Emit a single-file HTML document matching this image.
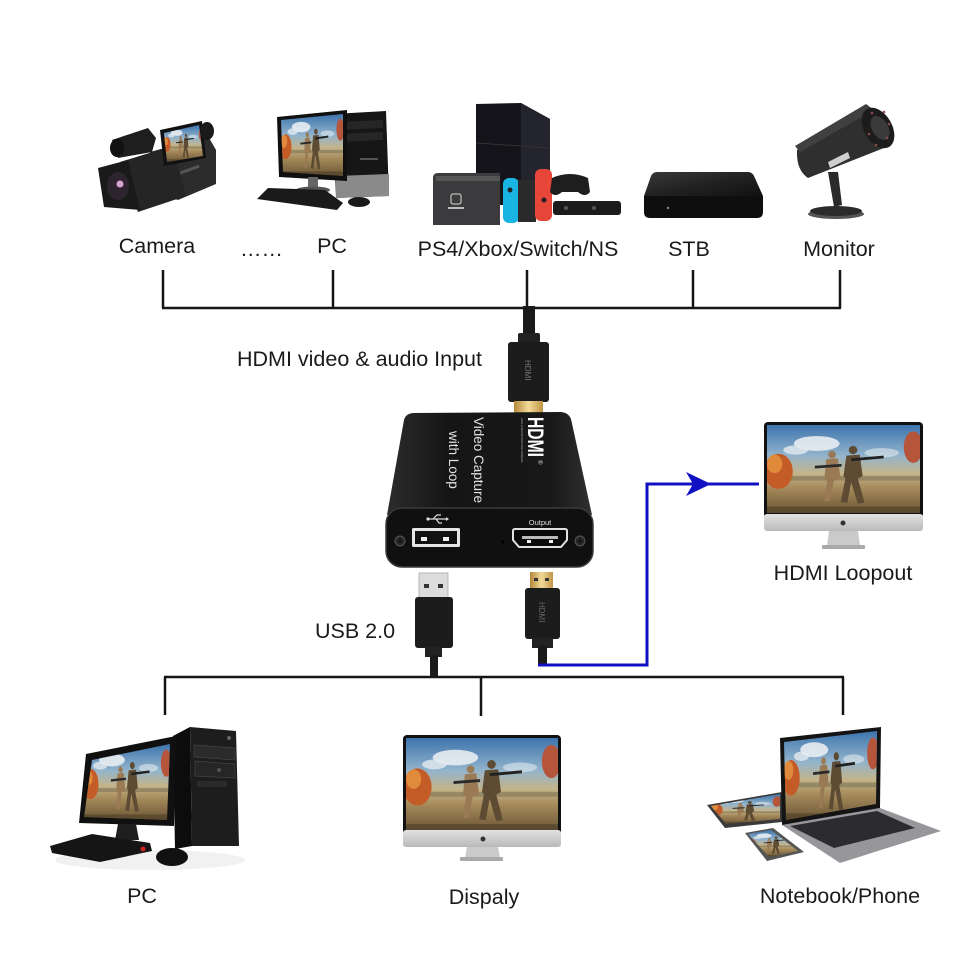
<!DOCTYPE html>
<html><head><meta charset="utf-8"><style>
html,body{margin:0;padding:0;background:#fff;}
svg{display:block}
text{font-family:"Liberation Sans",Arial,sans-serif;}
</style></head><body>
<svg width="980" height="980" viewBox="0 0 980 980" xmlns="http://www.w3.org/2000/svg">
<defs>
 <linearGradient id="sky" x1="0" y1="0" x2="0" y2="1">
  <stop offset="0" stop-color="#3d74ad"/>
  <stop offset="0.35" stop-color="#93b4cc"/>
  <stop offset="0.55" stop-color="#c4b48a"/>
  <stop offset="0.72" stop-color="#a5895a"/>
  <stop offset="1" stop-color="#6a5535"/>
 </linearGradient>
 <linearGradient id="gold" x1="0" y1="0" x2="1" y2="0">
  <stop offset="0" stop-color="#b3873a"/>
  <stop offset="0.5" stop-color="#f1dc98"/>
  <stop offset="1" stop-color="#c09545"/>
 </linearGradient>
 <linearGradient id="silver" x1="0" y1="0" x2="0" y2="1">
  <stop offset="0" stop-color="#e2e2e2"/>
  <stop offset="1" stop-color="#b9b9b9"/>
 </linearGradient>
 <linearGradient id="boxtop" x1="0" y1="0" x2="1" y2="0">
  <stop offset="0" stop-color="#2c2c2c"/>
  <stop offset="0.3" stop-color="#151515"/>
  <stop offset="0.8" stop-color="#181818"/>
  <stop offset="1" stop-color="#303030"/>
 </linearGradient>
 <linearGradient id="stbtop" x1="0" y1="0" x2="1" y2="1">
  <stop offset="0" stop-color="#3a3a3a"/>
  <stop offset="0.5" stop-color="#222"/>
  <stop offset="1" stop-color="#111"/>
 </linearGradient>
 <symbol id="scene" viewBox="0 0 160 95" preserveAspectRatio="none">
  <rect width="160" height="95" fill="url(#sky)"/>
  <ellipse cx="52" cy="20" rx="24" ry="8" fill="#eef2f4" opacity="0.85"/>
  <ellipse cx="30" cy="27" rx="13" ry="5" fill="#e4ebef" opacity="0.8"/>
  <ellipse cx="120" cy="30" rx="18" ry="5" fill="#dfe7ec" opacity="0.6"/>
  <rect x="0" y="55" width="160" height="5" fill="#7c7456" opacity="0.6"/>
  <ellipse cx="12" cy="50" rx="15" ry="19" fill="#c45c28"/>
  <ellipse cx="8" cy="42" rx="8" ry="10" fill="#e08a3c"/>
  <ellipse cx="153" cy="24" rx="10" ry="17" fill="#b5553c"/>
  <g fill="#9a7a55">
   <circle cx="68" cy="32" r="4"/>
   <path d="M62 37 L74 36 L77 58 L70 60 L66 82 L60 82 L63 60 L60 58 Z"/>
  </g>
  <path d="M50 44 L78 42 L78 45 L50 47Z" fill="#2a2a2a"/>
  <g fill="#5e4b33">
   <circle cx="90" cy="27" r="4.5"/>
   <path d="M83 33 L97 32 L100 55 L95 58 L102 84 L95 85 L88 62 L84 84 L77 83 L82 58 L80 55Z"/>
  </g>
  <path d="M88 36 L122 33 L122 36 L88 39Z" fill="#222"/>
  <rect x="0" y="88" width="160" height="7" fill="#4d3f28" opacity="0.6"/>
 </symbol>
 <clipPath id="cCam"><path d="M164 133 L199 125 L203 156 L167 162 Z"/></clipPath>
 <clipPath id="cPc1"><path d="M281 120 L343 114 L343 176 L283 172 Z"/></clipPath>
 <clipPath id="cPc2"><path d="M92 760 L170 744 L167 820 L84 817 Z"/></clipPath>
 <clipPath id="cLap"><path d="M784 742 L877 731 L876 804 L786 820 Z"/></clipPath>
 <clipPath id="cTab"><path d="M711 806 L780 794 L780 819 L726 824 Z"/></clipPath>
 <clipPath id="cPho"><path d="M748 834 L771 830 L798 851 L769 857 Z"/></clipPath>
</defs>

<rect width="980" height="980" fill="#fff"/>

<!-- ===== bus lines ===== -->
<g stroke="#151515" stroke-width="2.5" fill="none">
 <path d="M163 270 V308 M333 270 V308 M527 270 V308 M693 270 V308 M840 270 V308 M162 308 H841"/>
 <path d="M164 677 H844 M165 677 V715 M481 677 V716 M843 677 V715"/>
</g>

<!-- ===== Camera ===== -->
<g>
 <path d="M112 140 L148 128 L156 138 L152 152 L118 158 Z" fill="#1e1e1e"/>
 <ellipse cx="117" cy="148" rx="7" ry="9" fill="#111"/>
 <path d="M150 152 L208 136 L216 150 L216 184 L178 200 L150 190 Z" fill="#2c2c2c"/>
 <path d="M120 162 L172 146 L186 196 L138 212 Z" fill="#252525"/>
 <path d="M98 168 L128 160 L140 210 L104 207 Z" fill="#1a1a1a"/>
 <ellipse cx="118" cy="186" rx="11" ry="14" fill="#2e2430"/>
 <circle cx="120" cy="184" r="3.5" fill="#d9a6cc"/>
 <path d="M160 130 L202 121 L206 158 L164 166 Z" fill="#111"/>
 <g clip-path="url(#cCam)"><use href="#scene" x="164" y="125" width="39" height="37"/></g>
 <ellipse cx="207" cy="131" rx="7" ry="9" fill="#1a1a1a"/>
 <rect x="180" y="168" width="20" height="3" fill="#555" transform="rotate(-20 190 170)"/>
</g>

<!-- ===== Top PC ===== -->
<g>
 <path d="M333 114 L386 111 L389 196 L336 198 Z" fill="#161616"/>
 <path d="M336 176 L389 174 L389 196 L336 198Z" fill="#8a8a8a"/>
 <path d="M340 122 L383 120 L383 128 L340 130Z" fill="#262626"/>
 <path d="M340 134 L383 132 L383 140 L340 142Z" fill="#262626"/>
 <rect x="360" y="158" width="18" height="2" fill="#555"/>
 <path d="M277 117 L347 110 L347 181 L279 177 Z" fill="#101010"/>
 <g clip-path="url(#cPc1)"><use href="#scene" x="281" y="114" width="62" height="62"/></g>
 <rect x="308" y="177" width="10" height="12" fill="#666"/>
 <ellipse cx="313" cy="190" rx="17" ry="3.5" fill="#555"/>
 <path d="M268 188 L325 190 L343 203 L337 210 L257 199 Z" fill="#1a1a1a"/>
 <ellipse cx="359" cy="202" rx="11" ry="5" fill="#1a1a1a"/>
</g>

<!-- ===== PS4 / Switch ===== -->
<g>
 <path d="M476 104 L521 103 L550 119 L550 205 L476 205 Z" fill="#14141a"/>
 <path d="M521 103 L550 119 L550 205 L521 205 Z" fill="#24242e"/>
 <line x1="476" y1="143" x2="550" y2="148" stroke="#333" stroke-width="1"/>
 <path d="M433 178 Q433 173 438 173 L500 173 L500 225 L433 225 Z" fill="#3b3b3d"/>
 <rect x="436" y="176" width="64" height="5" fill="#555"/>
 <rect x="451" y="194" width="10" height="10" rx="2" fill="none" stroke="#ddd" stroke-width="1"/>
 <rect x="448" y="207" width="16" height="2" fill="#bbb"/>
 <rect x="503" y="178" width="16" height="45" rx="6" fill="#18b4e2"/>
 <circle cx="510" cy="190" r="2.5" fill="#222"/>
 <rect x="518" y="180" width="18" height="42" fill="#2a2a2a"/>
 <rect x="535" y="169" width="17" height="52" rx="6" fill="#e9463a"/>
 <circle cx="544" cy="200" r="2.5" fill="#222"/>
 <path d="M552 178 Q570 170 588 178 L590 192 Q585 198 578 192 L562 192 Q555 198 550 192 Z" fill="#1e1e1e"/>
 <rect x="553" y="201" width="68" height="14" rx="3" fill="#1c1c1c"/>
 <circle cx="566" cy="208" r="2" fill="#555"/>
 <circle cx="594" cy="208" r="2" fill="#555"/>
</g>

<!-- ===== STB ===== -->
<g>
 <path d="M657 172 L748 172 Q752 172 754 176 L763 196 L644 196 L651 176 Q653 172 657 172Z" fill="url(#stbtop)"/>
 <path d="M644 196 L763 196 L763 212 Q763 218 757 218 L650 218 Q644 218 644 212 Z" fill="#0e0e0e"/>
 <circle cx="668" cy="208" r="1.2" fill="#888"/>
</g>

<!-- ===== CCTV ===== -->
<g>
 <path d="M828 172 L838 172 L842 205 L834 207 Z" fill="#2a2a2a"/>
 <ellipse cx="836" cy="214" rx="28" ry="5" fill="#555"/>
 <ellipse cx="836" cy="211" rx="26" ry="5" fill="#2b2b2b"/>
 <path d="M797 150 L868 110 L889 146 L808 178 Q796 170 797 150Z" fill="#2f2f2f"/>
 <path d="M795 146 L866 104 L874 110 L800 152 Z" fill="#404040"/>
 <ellipse cx="878" cy="128" rx="14" ry="22" transform="rotate(-30 878 128)" fill="#1c1c1c"/>
 <ellipse cx="880" cy="128" rx="8" ry="13" transform="rotate(-30 880 128)" fill="#3a3a3a"/>
 <g fill="#8a4a4a">
  <circle cx="872" cy="113" r="1.3"/><circle cx="884" cy="112" r="1.3"/><circle cx="889" cy="124" r="1.3"/>
  <circle cx="887" cy="138" r="1.3"/><circle cx="876" cy="145" r="1.3"/><circle cx="869" cy="134" r="1.3"/>
 </g>
 <path d="M828 162 L848 152 L850 158 L830 168Z" fill="#cfcfcf"/>
</g>

<!-- ===== Labels ===== -->
<g font-size="21.5" fill="#1a1a1a">
 <text x="157" y="253" text-anchor="middle">Camera</text>
 <text x="240" y="256">……</text>
 <text x="332" y="253" text-anchor="middle">PC</text>
 <text x="518" y="256" text-anchor="middle">PS4/Xbox/Switch/NS</text>
 <text x="689" y="256" text-anchor="middle">STB</text>
 <text x="839" y="256" text-anchor="middle">Monitor</text>
 <text x="237" y="366">HDMI video &amp; audio Input</text>
 <text x="843" y="580" text-anchor="middle">HDMI Loopout</text>
 <text x="315" y="638">USB 2.0</text>
 <text x="142" y="903" text-anchor="middle">PC</text>
 <text x="484" y="904" text-anchor="middle">Dispaly</text>
 <text x="840" y="903" text-anchor="middle">Notebook/Phone</text>
</g>

<!-- ===== HDMI input cable ===== -->
<g>
 <rect x="523" y="306" width="12" height="30" fill="#1a1a1a"/>
 <rect x="518" y="333" width="22" height="12" rx="2" fill="#222"/>
 <rect x="508" y="342" width="41" height="60" rx="3" fill="#1c1c1c"/>
 <text transform="translate(525,360) rotate(90)" font-size="8" fill="#777">HDMI</text>
 <rect x="514" y="401" width="29" height="12" fill="url(#gold)"/>
</g>

<!-- ===== Capture device ===== -->
<g>
 <path d="M404 420 Q406 413 414 413 L560 412 Q568 412 571 419 L592 515 L387 515 Z" fill="url(#boxtop)"/>
 <rect x="386" y="508" width="207" height="59" rx="16" fill="#101010" stroke="#3a3a3a" stroke-width="1.5"/>
 <text transform="translate(474,417) rotate(90)" font-size="13.5" fill="#e2e2e2">Video Capture</text>
 <text transform="translate(449,431) rotate(90)" font-size="13.5" fill="#e2e2e2">with Loop</text>
 <text transform="translate(528,417) rotate(90)" font-size="22" font-weight="bold" fill="#fff" textLength="40" lengthAdjust="spacingAndGlyphs">HDMI</text>
 <text transform="translate(521,418) rotate(90)" font-size="3" fill="#aaa">HIGH-DEFINITION MULTIMEDIA</text>
 <text transform="translate(538,460) rotate(90)" font-size="6" fill="#ddd">®</text>
 <rect x="412" y="528" width="48" height="19" rx="1.5" fill="#e6e6e6"/>
 <rect x="415" y="531" width="42" height="13" fill="#111"/>
 <rect x="421" y="537" width="6" height="4" fill="#eee"/>
 <rect x="443" y="537" width="6" height="4" fill="#eee"/>
 <g stroke="#ddd" stroke-width="1.2" fill="none">
  <path d="M428 519 H446 M433 519 L437 515 H441 M436 519 L439 523 H442"/>
 </g>
 <circle cx="428" cy="519" r="1.6" fill="#ddd"/>
 <path d="M446 517 L449 519 L446 521Z" fill="#ddd"/>
 <text x="540" y="525" font-size="7.5" fill="#ddd" text-anchor="middle">Output</text>
 <path d="M513 531 Q513 529 515 529 L565 529 Q567 529 567 531 L567 540 L561 547 L519 547 L513 540 Z" fill="#0a0a0a" stroke="#e0e0e0" stroke-width="2"/>
 <rect x="522" y="536" width="36" height="3" fill="#bbb"/>
 <rect x="527" y="540" width="4" height="3" fill="#eee"/>
 <rect x="549" y="540" width="4" height="3" fill="#eee"/>
 <circle cx="400" cy="541" r="5" fill="#2a2a2a" stroke="#555" stroke-width="1"/>
 <path d="M397 541 H403 M400 538 V544" stroke="#111" stroke-width="1.2"/>
 <circle cx="580" cy="541" r="5" fill="#2a2a2a" stroke="#555" stroke-width="1"/>
 <path d="M577 541 H583 M580 538 V544" stroke="#111" stroke-width="1.2"/>
 <circle cx="503" cy="542" r="1.6" fill="#000"/>
</g>

<!-- ===== USB cable ===== -->
<g>
 <rect x="419" y="573" width="29" height="25" fill="#dcdcdc" stroke="#aaa" stroke-width="0.8"/>
 <rect x="424" y="584" width="5" height="4" fill="#333"/>
 <rect x="438" y="584" width="5" height="4" fill="#333"/>
 <rect x="415" y="597" width="38" height="51" rx="3" fill="#1c1c1c"/>
 <rect x="425" y="647" width="17" height="10" fill="#222"/>
 <rect x="430" y="655" width="8" height="22" fill="#1a1a1a"/>
</g>

<!-- ===== HDMI output cable ===== -->
<g>
 <rect x="530" y="572" width="23" height="17" fill="url(#gold)"/>
 <rect x="534" y="578" width="4" height="3" fill="#333"/>
 <rect x="545" y="578" width="4" height="3" fill="#333"/>
 <rect x="525" y="588" width="35" height="51" rx="3" fill="#1c1c1c"/>
 <text transform="translate(539,602) rotate(90)" font-size="8" fill="#666">HDMI</text>
 <rect x="532" y="638" width="21" height="10" fill="#222"/>
 <rect x="538" y="646" width="9" height="20" fill="#1a1a1a"/>
</g>

<!-- ===== Blue loop line ===== -->
<g>
 <path d="M538 665 H647 V484 H759" fill="none" stroke="#1111c4" stroke-width="3"/>
 <path d="M686 472 L711 484 L686 496 L693 484 Z" fill="#1111c4"/>
</g>

<!-- ===== Loopout monitor ===== -->
<g>
 <rect x="764" y="422" width="159" height="96" rx="4" fill="#111"/>
 <use href="#scene" x="767" y="425" width="153" height="88"/>
 <rect x="764" y="514" width="159" height="17" rx="3" fill="url(#silver)"/>
 <circle cx="843" cy="523" r="2.5" fill="#333"/>
 <path d="M829 531 L858 531 L860 546 L827 546 Z" fill="#cacaca"/>
 <rect x="822" y="545" width="43" height="4" rx="1" fill="#a9a9a9"/>
</g>

<!-- ===== Display ===== -->
<g>
 <rect x="403" y="735" width="158" height="100" rx="4" fill="#111"/>
 <use href="#scene" x="406" y="738" width="152" height="93"/>
 <rect x="403" y="830" width="158" height="17" rx="3" fill="url(#silver)"/>
 <circle cx="483" cy="839" r="2.5" fill="#333"/>
 <path d="M467 847 L498 847 L500 858 L465 858 Z" fill="#cacaca"/>
 <rect x="460" y="857" width="43" height="4" rx="1" fill="#a9a9a9"/>
</g>

<!-- ===== Bottom PC ===== -->
<g>
 <ellipse cx="150" cy="860" rx="95" ry="10" fill="#f1f1f1"/>
 <path d="M173 736 L190 727 L192 846 L175 849 Z" fill="#0c0c0c"/>
 <path d="M190 727 L236 731 L239 846 L192 846 Z" fill="#1d1d1d"/>
 <path d="M194 745 L235 748 L235 760 L194 757Z" fill="#2b2b2b" stroke="#444" stroke-width="0.7"/>
 <path d="M195 761 L235 764 L235 778 L195 776Z" fill="#262626" stroke="#444" stroke-width="0.7"/>
 <rect x="197" y="781" width="30" height="6" fill="#2a2a2a"/>
 <circle cx="219" cy="770" r="2" fill="#555"/>
 <circle cx="229" cy="738" r="2" fill="#666"/>
 <path d="M86 754 L176 736 L174 826 L79 823 Z" fill="#101010"/>
 <g clip-path="url(#cPc2)"><use href="#scene" x="84" y="744" width="86" height="76"/></g>
 <path d="M118 824 L136 824 L139 840 L115 840 Z" fill="#1e1e1e"/>
 <path d="M50 846 L92 834 L150 843 L152 851 L100 862 L52 853 Z" fill="#151515"/>
 <circle cx="143" cy="849" r="2.5" fill="#c22"/>
 <ellipse cx="172" cy="857" rx="16" ry="9" fill="#111"/>
</g>

<!-- ===== Notebook / Tablet / Phone ===== -->
<g>
 <path d="M707 805 L782 792 L782 822 L725 828 Z" fill="#3a3a3a"/>
 <g clip-path="url(#cTab)"><use href="#scene" x="711" y="794" width="69" height="30"/></g>
 <path d="M782 825 L880 808 L941 831 L840 863 Z" fill="#97979b"/>
 <path d="M790 826 L877 811 L915 828 L834 848 Z" fill="#2c2c30"/>
 <path d="M780 738 L881 727 L880 808 L782 825 Z" fill="#141414"/>
 <g clip-path="url(#cLap)"><use href="#scene" x="784" y="731" width="93" height="89"/></g>
 <path d="M745 833 L773 828 L804 852 L767 861 Z" fill="#555"/>
 <g clip-path="url(#cPho)"><use href="#scene" x="748" y="830" width="50" height="27"/></g>
</g>

</svg>
</body></html>
